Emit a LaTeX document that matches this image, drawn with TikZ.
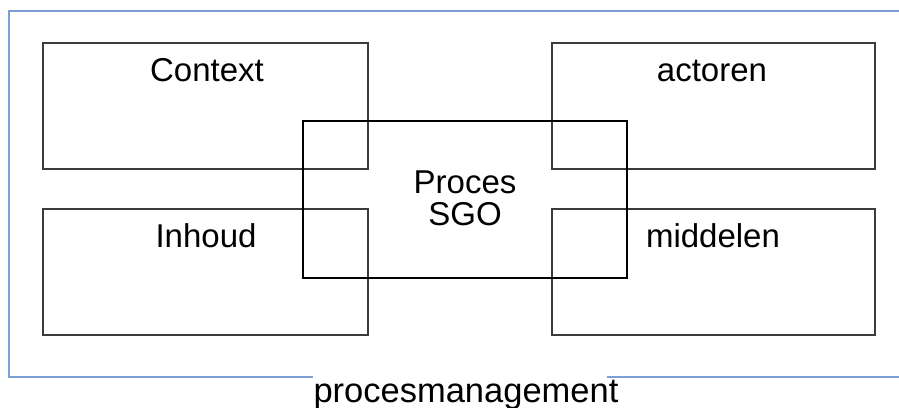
\documentclass[tikz,border=0pt]{standalone}
\usepackage{fontspec}
\setmainfont{Liberation Sans}
\definecolor{framebl}{RGB}{125,160,212}
\definecolor{boxline}{RGB}{60,60,60}
\begin{document}
\begin{tikzpicture}[x=1pt,y=-1pt,
  box/.style={draw=boxline,line width=1.4pt,rectangle,inner sep=0pt,outer sep=0pt,anchor=north west},
  lbl/.style={anchor=base,inner sep=0pt,font=\fontsize{33}{33}\selectfont},
  frameline/.style={draw=framebl,line width=1.5pt}]
\useasboundingbox (0,0) rectangle (899,407);
% outer frame, open at the bottom for the title
\coordinate (ftl) at (9,11);
\coordinate (ftr) at (899,11);
\coordinate (fbl) at (9,377);
\coordinate (fbm1) at (313,377);
\coordinate (fbm2) at (607,377);
\coordinate (fbr) at (899,377);
\draw[frameline] (ftr) -- (ftl) -- (fbl) -- (fbm1);
\draw[frameline] (fbm2) -- (fbr);
% the four corner boxes
\node[box,minimum width=325pt,minimum height=126pt] (ctx) at (43,43) {};
\node[box,minimum width=325pt,minimum height=126pt] (inh) at (43,209) {};
\node[box,minimum width=323pt,minimum height=126pt] (act) at (552,43) {};
\node[box,minimum width=323pt,minimum height=126pt] (mid) at (552,209) {};
% central process box
\node[box,draw=black,line width=1.1pt,minimum width=324pt,minimum height=157pt] (proc) at (303,121) {};
% labels
\node[lbl] (tctx) at (207,81) {Context};
\node[lbl] (tact) at (712,81) {actoren};
\node[lbl] (tinh) at (206,247) {Inhoud};
\node[lbl] (tmid) at (713,247) {middelen};
\node[lbl] (tp1) at (465,193) {Proces};
\node[lbl] (tp2) at (465,225) {SGO};
\node[lbl,font=\fontsize{34.5}{34.5}\selectfont] (ttitle) at (466,402) {procesmanagement};
\end{tikzpicture}
\end{document}
